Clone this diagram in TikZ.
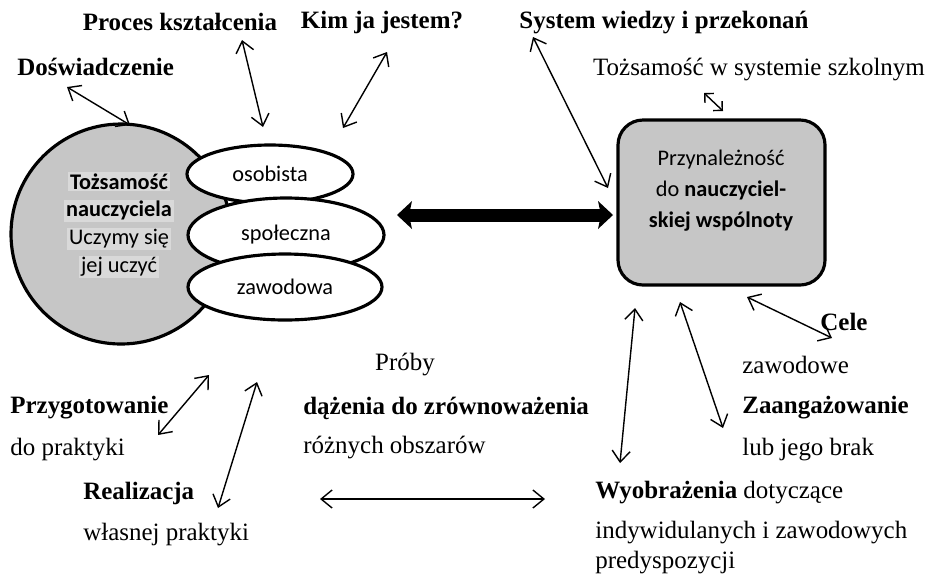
\documentclass[tikz,border=0pt]{standalone}
\usepackage{fontspec}
\setmainfont{Liberation Serif}
\newfontfamily\calibri{Carlito}
\usetikzlibrary{arrows.meta,shapes.geometric}

\definecolor{shade}{HTML}{C6C6C6}
\definecolor{hilite}{HTML}{D9D9D9}
\setlength{\fboxsep}{1pt}
\newcommand{\hl}[1]{\colorbox{hilite}{#1}}

\begin{document}
\begin{tikzpicture}[
        x=0.2mm, y=-0.2mm,
        >={Straight Barb[length=2.2mm,width=3.6mm]},
        txt/.style={font=\fontsize{14.2}{17}\selectfont, inner sep=0pt},
        bold/.style={font=\fontsize{14.2}{17}\selectfont\bfseries, inner sep=0pt},
        sans/.style={font=\calibri\fontsize{12.7}{15.9}\selectfont, align=center, inner sep=0pt},
        oval/.style={ellipse, draw, line width=1.8pt, fill=white, inner sep=0pt, sans},
        link/.style={<->, line width=0.8pt},
        minilink/.style={{Straight Barb[length=1.3mm,width=2.6mm]}-{Straight Barb[length=1.3mm,width=2.6mm]}, line width=0.8pt},
        bigarrow/.style={line width=2.6mm,
            {Stealth[length=3mm,width=5.6mm,inset=0.6mm,line width=0pt]}-{Stealth[length=3mm,width=5.6mm,inset=0.6mm,line width=0pt]}},
    ]
    \useasboundingbox (0, 0) rectangle (927, 576);

    % identity circle and its three parts
    \node[circle, draw, line width=1.8pt, fill=shade, minimum size=44mm] (ident) at (121, 234) {};
    \node[sans] (identt) at (119, 225) {\hl{\textbf{Tożsamość}}\\\hl{\textbf{nauczyciela}}\\\hl{Uczymy się}\\\hl{jej uczyć}};
    \node[oval, minimum width=33.2mm, minimum height=11.6mm] (osob) at (270, 174) {osobista};
    \node[oval, minimum width=39.2mm, minimum height=14.8mm] (spol) at (286, 235) {społeczna};
    \node[oval, minimum width=38.8mm, minimum height=13.2mm] (zawo) at (285, 287) {zawodowa};

    % community box
    \node[draw, line width=1.8pt, fill=shade, rounded corners=5mm, minimum width=41.4mm, minimum height=33mm] (grp) at (721.5, 202.5) {};
    \node[sans, font=\calibri\fontsize{12.7}{17.6}\selectfont] (grpt) at (721, 191) {Przynależność\\do \textbf{nauczyciel-}\\\textbf{skiej wspólnoty}};

    \coordinate (bl) at (397, 215);
    \coordinate (br) at (613, 215);
    \draw[bigarrow] (bl) -- (br);

    % labels
    \node[bold, anchor=west] (dos) at (17, 67) {Doświadczenie};
    \node[bold] (proc) at (180, 22) {Proces kształcenia};
    \node[bold] (kim) at (382, 22) {Kim ja jestem?};
    \node[bold] (sys) at (664, 23) {System wiedzy i przekonań};
    \node[txt] (szk) at (759, 70) {Tożsamość w systemie szkolnym};
    \node[bold] (cele) at (844, 322) {Cele};
    \node[txt, anchor=west] (zaw) at (742, 365) {zawodowe};
    \node[bold, anchor=west] (zaang) at (742, 408) {Zaangażowanie};
    \node[txt, anchor=west] (lub) at (742, 450) {lub jego brak};
    \node[txt, anchor=west] (wyob) at (595, 493) {\textbf{Wyobrażenia} dotyczące};
    \node[txt, anchor=west] (indy) at (595, 533) {indywidulanych i zawodowych};
    \node[txt, anchor=west] (pred) at (595, 563) {predyspozycji};
    \node[txt] (proby) at (405, 365) {Próby};
    \node[bold, anchor=west] (daz) at (303, 408) {dążenia do zrównoważenia};
    \node[txt, anchor=west] (rozn) at (303, 448) {różnych obszarów};
    \node[bold, anchor=west] (przyg) at (10, 408) {Przygotowanie};
    \node[txt, anchor=west] (dopr) at (10, 450) {do praktyki};
    \node[bold, anchor=west] (real) at (83, 493) {Realizacja};
    \node[txt, anchor=west] (wlas) at (83, 535) {własnej praktyki};

    % arrow ends
    \coordinate (dosA) at (67, 87);    \coordinate (dosB) at (130, 125);
    \coordinate (procA) at (242, 40); \coordinate (procB) at (263, 127);
    \coordinate (kimA) at (387, 52);   \coordinate (kimB) at (343, 128);
    \coordinate (sysA) at (533, 37);   \coordinate (sysB) at (608, 188);
    \coordinate (szkA) at (704, 93);   \coordinate (szkB) at (723, 111);
    \coordinate (celeA) at (747, 297); \coordinate (celeB) at (832, 338);
    \coordinate (zaA) at (680, 302);   \coordinate (zaB) at (723, 428);
    \coordinate (wyA) at (635, 308);   \coordinate (wyB) at (620, 463);
    \coordinate (przA) at (209, 375);  \coordinate (przB) at (158, 435);
    \coordinate (reA) at (257, 382);   \coordinate (reB) at (218, 508);
    \coordinate (hzA) at (320, 499);   \coordinate (hzB) at (545, 499);

    \draw[link] (dosA) -- (dosB);
    \draw[link] (procA) -- (procB);
    \draw[link] (kimA) -- (kimB);
    \draw[link] (sysA) -- (sysB);
    \draw[minilink] (szkA) -- (szkB);
    \draw[link] (celeA) -- (celeB);
    \draw[link] (zaA) -- (zaB);
    \draw[link] (wyA) -- (wyB);
    \draw[link] (przA) -- (przB);
    \draw[link] (reA) -- (reB);
    \draw[link] (hzA) -- (hzB);
\end{tikzpicture}
\end{document}
